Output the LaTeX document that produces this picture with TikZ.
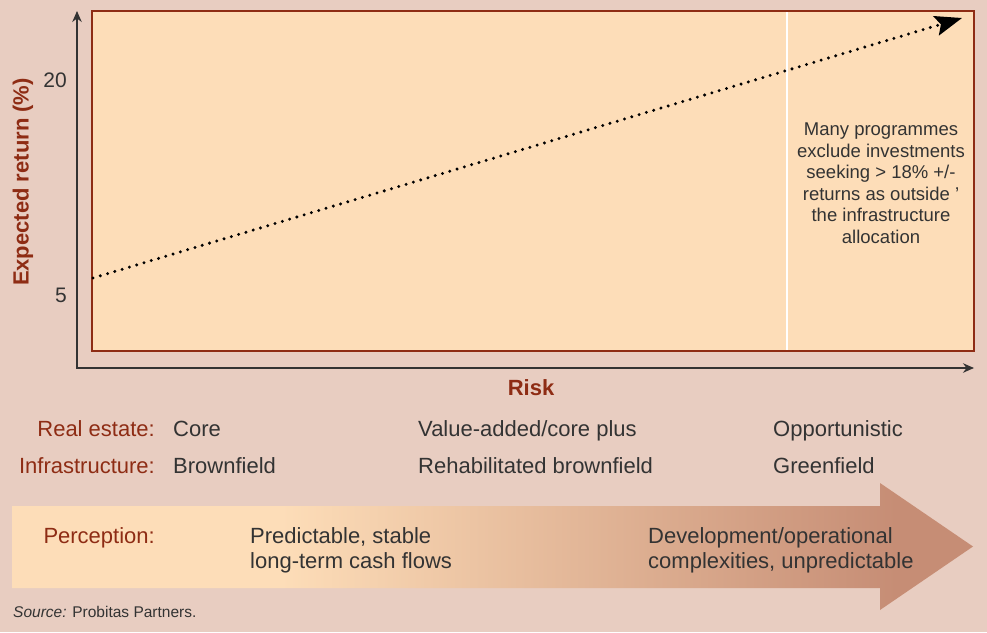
\documentclass[tikz,border=0pt]{standalone}
\usepackage{fontspec}
\setmainfont{Liberation Sans}
\usetikzlibrary{arrows.meta}

\definecolor{bgrose}{HTML}{E8CDC1}
\definecolor{peach}{HTML}{FDDDB8}
\definecolor{tan}{HTML}{C68D75}
\definecolor{rust}{HTML}{8E2C14}
\definecolor{ink}{HTML}{333333}

\pgfdeclarehorizontalshading{perception}{100bp}{color(0bp)=(peach); color(39bp)=(peach); color(71bp)=(tan); color(100bp)=(tan)}

\begin{document}
\begin{tikzpicture}[x=1pt,y=-1pt,
    lbl/.style={inner sep=0pt,text=ink,font=\fontsize{22}{25}\selectfont},
    axis/.style={draw=ink,line width=1.3pt},
    trend/.style={draw=black,line width=3.3pt,line cap=round,dash pattern=on 0pt off 7.6pt}]
    \path[use as bounding box,fill=bgrose] (0,0) rectangle (987,632);

    % plot area
    \begin{scope}
        \coordinate (boxnw) at (92,11);
        \coordinate (boxse) at (974,351);
        \draw[draw=rust,fill=peach,line width=1.3pt] (boxnw) rectangle (boxse);
        \coordinate (splittop) at (787,12);
        \coordinate (splitbot) at (787,350);
        \draw[white,line width=1.6pt] (splittop) -- (splitbot);
    \end{scope}

    % axes and trend
    \begin{scope}
        \coordinate (ytop) at (77,11);
        \coordinate (xend) at (974,368);
        \draw[axis,{Stealth[length=11pt,width=9.5pt]}-{Stealth[length=11pt,width=9.5pt]}] (ytop) |- (xend);
        \coordinate (lo) at (93,278);
        \coordinate (hi) at (962,18);
        \draw[trend,-{Stealth[length=27pt,width=20pt,inset=5pt]}] (lo) -- (hi);
    \end{scope}

    \node[lbl,anchor=base east,font=\fontsize{21}{24}\selectfont] (t20) at (67,87) {20};
    \node[lbl,anchor=base east,font=\fontsize{21}{24}\selectfont] (t5) at (67,302) {5};
    \node[inner sep=0pt,rotate=90,text=rust,font=\bfseries\fontsize{22}{26}\selectfont] (ylabel) at (23,182) {Expected return (\%)};
    \node[inner sep=0pt,text=rust,font=\bfseries\fontsize{22}{26}\selectfont] (xlabel) at (531,388) {Risk};
    \node[lbl,align=center,font=\fontsize{18.5}{21.5}\selectfont] (note) at (881,183)
        {Many programmes\\exclude investments\\seeking > 18\% +/-\\returns as outside ’\\the infrastructure\\allocation};

    % categories along the risk axis
    \begin{scope}[every node/.style={lbl}]
        \node[anchor=base east,text=rust] (realestate) at (155,436) {Real estate:};
        \node[anchor=base east,text=rust] (infra) at (155,473) {Infrastructure:};
        \node[anchor=base west] (core) at (173,436) {Core};
        \node[anchor=base west] (brown) at (173,473) {Brownfield};
        \node[anchor=base west] (valueadd) at (418,436) {Value-added/core plus};
        \node[anchor=base west] (rehab) at (418,473) {Rehabilitated brownfield};
        \node[anchor=base west] (opport) at (773,436) {Opportunistic};
        \node[anchor=base west] (green) at (773,473) {Greenfield};
    \end{scope}

    % perception arrow
    \shade[shading=perception] (12,506) -- (880,506) -- (880,483) -- (973,546.5)
        -- (880,610) -- (880,588) -- (12,588) -- cycle;
    \begin{scope}[every node/.style={lbl}]
        \node[anchor=base east,text=rust] (percept) at (155,543) {Perception:};
        \node[anchor=west,align=left] (stable) at (250,550) {Predictable, stable\\long-term cash flows};
        \node[anchor=west,align=left] (complex) at (648,550) {Development/operational\\complexities, unpredictable};
    \end{scope}

    \node[inner sep=0pt,anchor=base west,text=ink,font=\fontsize{15.5}{18}\selectfont] (source) at (13,617)
        {\textit{Source:} Probitas Partners.};
\end{tikzpicture}
\end{document}
